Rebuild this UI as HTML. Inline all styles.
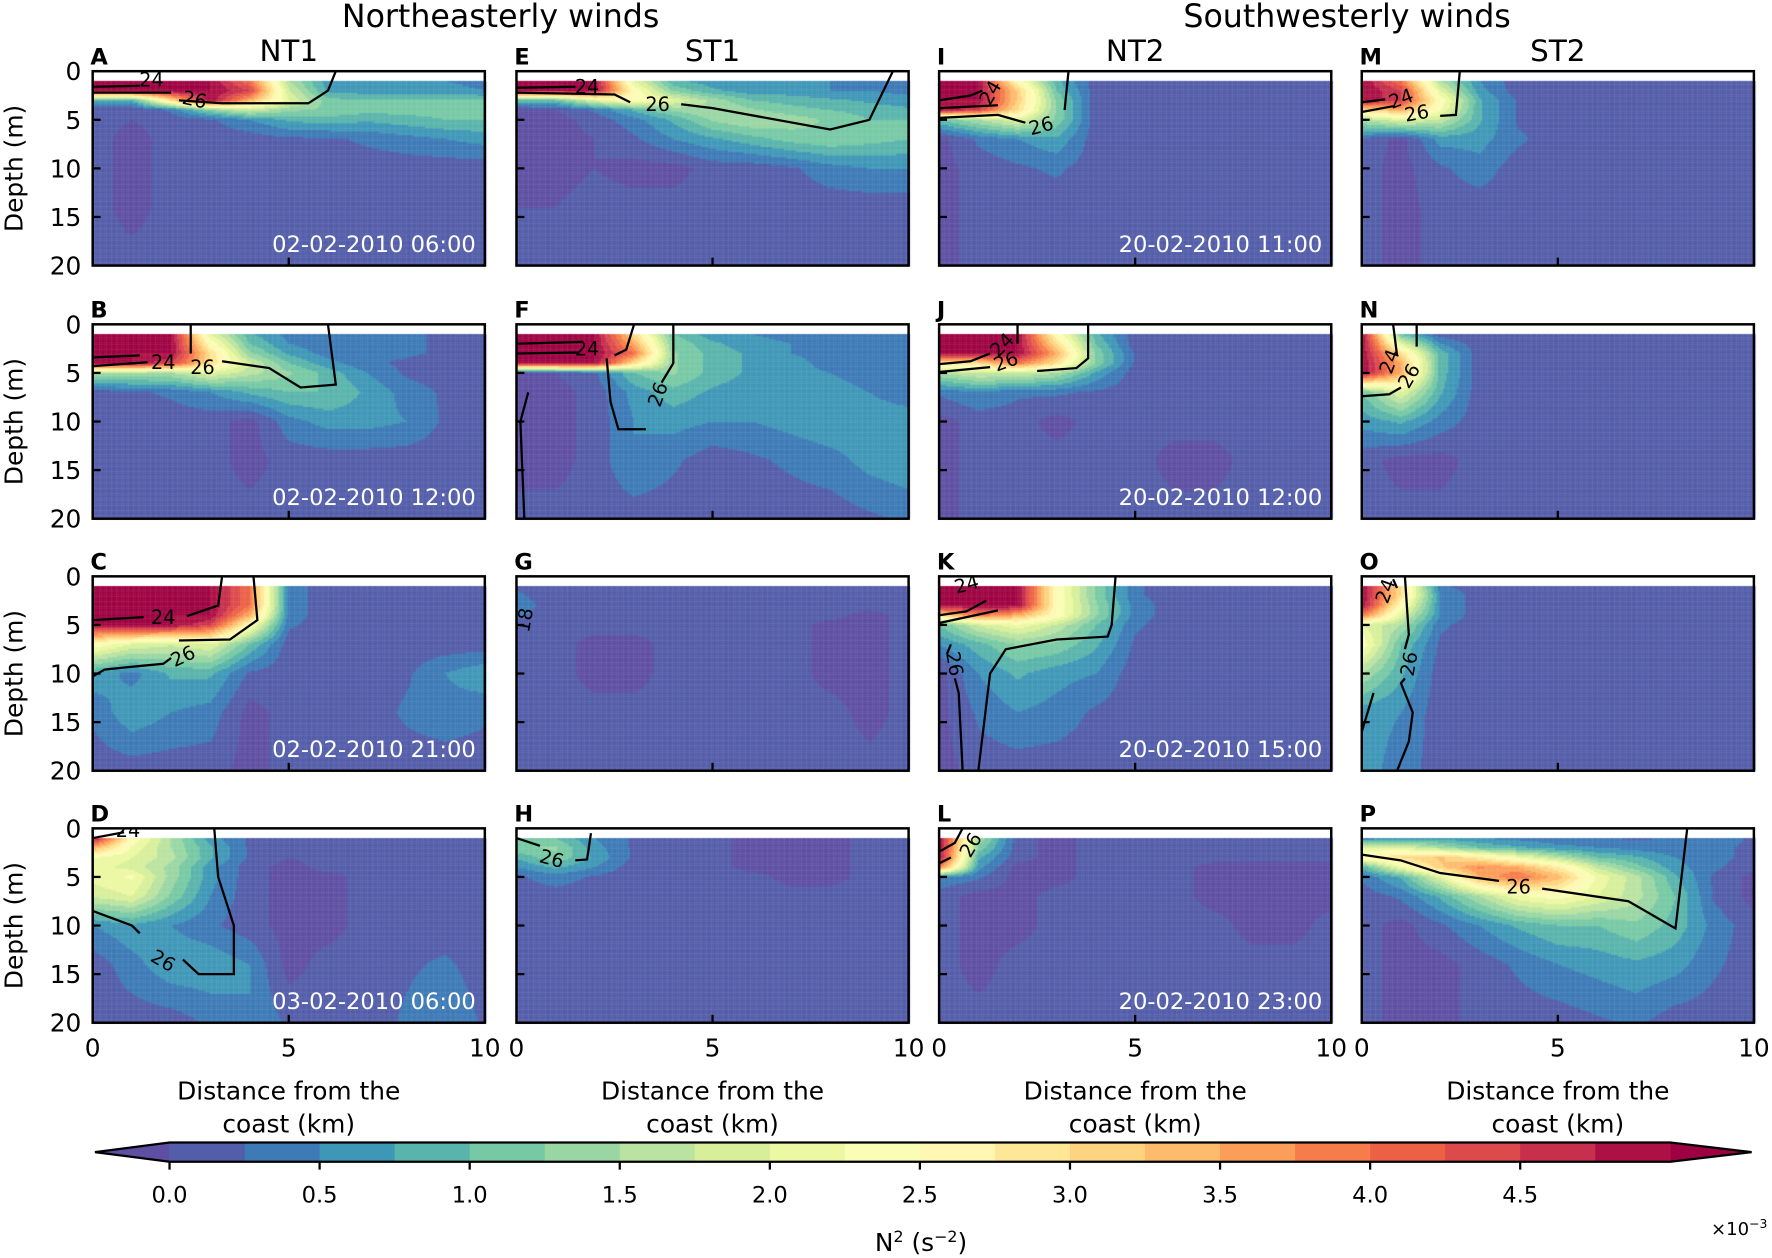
<!DOCTYPE html>
<html><head><meta charset="utf-8">
<style>
html,body{margin:0;padding:0;background:#fff;}
#wrap{position:relative;width:1772px;height:1258px;overflow:hidden;}
canvas,svg{position:absolute;left:0;top:0;}
text{font-family:"DejaVu Sans","Liberation Sans",sans-serif;}
</style></head>
<body>
<div id="wrap">
<canvas id="cv" width="1772" height="1258"></canvas>
<svg id="sv" width="1772" height="1258" viewBox="0 0 1568 1113.2"></svg>
</div>
<script>
// ---- data ----
const depths = [1,2,3,4,5,7,10,14,20];
const xKm = [0,1,2,3,4,5,6,7,8,9,10];
const panelLetters = ["A","B","C","D","E","F","G","H","I","J","K","L","M","N","O","P"];
const panelDates = ["02-02-2010 06:00","02-02-2010 12:00","02-02-2010 21:00","03-02-2010 06:00","","","","","20-02-2010 11:00","20-02-2010 12:00","20-02-2010 15:00","20-02-2010 23:00","","","",""];
const columnTitles = ["NT1","ST1","NT2","ST2"];
const groupTitles = ["Northeasterly winds","Southwesterly winds"];
const yTicks = [0,5,10,15,20];
const xTicks = [0,5,10];
const cbTicks = [0,0.5,1,1.5,2,2.5,3,3.5,4,4.5];
const cbLevels = [0,0.25,0.5,0.75,1,1.25,1.5,1.75,2,2.25,2.5,2.75,3,3.25,3.5,3.75,4,4.25,4.5,4.75,5];
// N2 fields (x1e-3), rows = depths, cols = xKm (missing cols = 0.1)
const fieldA = ["5 5 5 5 4 1.5 .6 .5 .5 .5 .4","5 5 5 5 4.5 1.8 .7 .6 .6 .6 .5",".8 .8 3 5 3.5 2 1.1 1 1 1 1","0 0 .3 1.2 1.8 1.3 1.2 1.1 1.1 1.1 1.1",".1 0 .1 .2 .5 .8 .9 .8 .9 1 1",".1 -.1 .1 .1 .1 .2 .2 .3 .4 .5 .6",".1 -.1 .1 .1 .1 .1 .1 .1 .1 .1 .1",".1 -.1",".1 .1 .1 .1 .1 .1 .1 .1 .1 .1 0"];
const fieldB = ["5 5 5 2 .8 .4 .3 .3 .3 .2 .2","5 5 5 2.5 1 .5 .3 .3 .3 .2 .2","5 5 5 3 1.3 .7 .4 .3 .3 .2 .2","5 5 4.5 3 1.8 1 .6 .3 .2 .1 .1","1.5 1.5 1.5 2 1.6 1.3 .9 .5 .2 .1 .1",".1 .2 .3 .5 .8 1 1 .7 .4 .2 .1",".1 .1 .1 .1 -.1 .4 .6 .6 .5 .2 .1",".1 .1 .1 .1 -.1 .1",".1"];
const fieldC = ["5 5 5 5 4 .4 .1","5 5 5 5 4 .4","5 5 5 5 4 .4","5 5 5 5 3.5 .4","5 5 5 4.5 2.5 .3","2.5 2 1.8 2 1 .1",".7 .4 .8 .8 .2 .1 .1 .1 .2 .5 .7",".3 .7 .5 .4 -.1 .1 .1 .1 .3 .4 .3",".1 .1 .1 .1 -.1"];
const fieldD = ["5 2.5 1.5 .6 .2 .1 .1","3.5 2.2 1.5 .8 .2 .1","2.3 2 1.6 .8 .2 0","2.1 1.9 1.4 .6 .1 -.1","2.1 2.3 1.4 .6 .1 -.1 -.1","1.8 2 1.2 .5 .1 -.1 -.1",".5 .7 .5 .3 .1 -.1 -.1",".1 .4 .7 .7 .5 -.1 .1 .1 .2 .3 .1",".1 .1 .1 .3 .5 .2 .1 .1 .3 .5 .2"];
const fieldE = ["5 5 5 2 .8 .6 .5 .5 .5 .4 .4","5 5 5 2.5 1.2 .8 .6 .6 .5 .5 .4","1 1 2 2.5 2 1.4 1 .9 .8 .7 .6","-.1 0 .3 .8 1.3 1.5 1.3 1.1 1 .9 .8","-.1 -.1 .1 .4 .8 1.3 1.5 1.4 1.2 1 1","-.1 -.1 0 .2 .5 .7 .9 1.1 1.2 1.1 1","-.1 -.1 0 -.1 -.1 .1 .1 .2 .4 .5 .5","0 0",".1"];
const fieldF = ["5 5 5 3 1 .6 .5 .4 .4 .3 .3","5 5 5 3.5 1.2 .8 .6 .5 .4 .3 .3","5 5 5 4 1.3 .9 .7 .5 .4 .3 .3","5 5 5 3 1.3 .9 .7 .6 .4 .3 .3","0 0 .2 1 1.3 .9 .7 .6 .5 .4 .3","-.1 -.1 .1 .6 .9 .7 .6 .6 .6 .5 .4","-.1 -.1 .1 .5 .6 .5 .5 .6 .7 .6 .6","-.1 -.1 .1 .5 .3 .1 .2 .3 .4 .6 .7",".1 .1 .1 .1 .1 .1 .1 .1 .1 .2 .3"];
const fieldG = [".2 .1 .1 .1 .1 .1 .1 .1 .1 .1 .1",".3 .1 .1 .1 .1 .1 .1 .1 .1 .1 .1",".4 .1 .1 .1 .1 .1 .1 .1 .1 .1 .1",".3 .1 .1 .1 .1 .1 .1 .1 .1 -.1 .1",".1 .1 .1 .1 .1 .1 .1 .1 -.1 -.1 .1",".1 .1 -.1 -.1 .1 .1 .1 .1 -.1 -.1 .1",".1 .1 -.1 -.1 .1 .1 .1 .1 -.1 -.1 .1",".1 .1 .1 .1 .1 .1 .1 .1 .1 -.1 .1",".1"];
const fieldH = ["1 1 .5 .2 .1 .1 -.1 -.1 -.1 .1 .1","1.2 1.3 .6 .2 .1 .1 -.1 -.1 -.1 .1 .1",".8 1.2 .7 .2 .1 .1 -.1 -.1 -.1 .1 .1",".5 .8 .5 .1 .1 .1 -.1 -.1 -.1 .1 .1",".2 .4 .2 .1 .1 .1 .1 -.1 -.1 .1 .1",".1",".1",".1",".1"];
const fieldI = ["5 5 2.5 .8 .1 .1","5 5 3.2 1 .1 .1","5 5 3.2 1.2 .1 .1","5 4.5 3 1.2 .1 .1","1 1.5 2 1.2 .1 .1","-.1 .3 .5 .7 .1 .1","-.1 .1 .2 .3 .1 .1","-.1 .1","-.1 .1"];
const fieldJ = ["5 5 5 2.5 .8 .1 .1","5 5 5 3 1 .1 .1","5 5 5 3.5 1.2 .2 .1","3 3 4 3 1.2 .2 .1","1.5 1.8 1.8 1.5 .7 .1 .1",".3 .5 .3 .3 .2 .1","-.1 .1 .1 -.1 .1","-.1 .1 .1 .1 .1 .1 -.1 -.1","-.1 .1"];
const fieldK = ["5 5 5 2.5 1.2 .3 .1","5 5 5 2.5 1.2 .3 .1","5 5 5 2.5 1.3 .4 .1","3 4 3.5 2.5 1.3 .4 .1","1 1.8 2.2 1.7 1 .3 .1",".5 .9 1.3 1.2 .8 .2 .1","-.1 .5 .8 .6 .5 .1 .1","-.1 .3 .5 .4 .2 .1 .1","-.1 .1"];
const fieldL = ["5 1.5 .1 -.1 .1 .1 .1 .1 .1 .1 .1","5 1.2 .1 -.1 .1 .1 .1 .1 .1 .1 .1","5 .8 .1 -.1 .1 .1 .1 .1 .1 .1 .1","4 .6 -.1 -.1 .1 .1 .1 -.1 -.1 -.1 -.1",".5 .3 -.1 -.1 .1 .1 .1 -.1 -.1 -.1 -.1",".1 -.1 -.1 .1 .1 .1 .1 -.1 -.1 -.1 -.1",".1 -.1 -.1 .1 .1 .1 .1 .1 -.1 -.1 .1",".1 -.1 .1 .1 .1 .1 .1 .1 .1 .1 .1",".1"];
const fieldM = ["5 4 1.5 .5 .1 .1","5 4.5 2 .6 .1","5 4.5 2.5 .8 .2","3 3.5 2.3 .8 .2","1.5 2 1.7 .8 .2",".2 -.1 .6 .6 .3",".1 -.1 .2 .4 .1",".1 -.1 .1 .1 .1",".1 -.1"];
const fieldN = ["5 1 .1","5 2 .5","5 3 .9","5 3.5 .9","5 3.5 .9","1 2 .8",".6 .8 .4",".1 -.1 -.1 .1",".1"];
const fieldO = ["5 3 .3 .1","5 3 .5","5 2.5 .5","4 2 .5","2 1.5 .3","2.5 1 .2","1.5 .8 .1",".6 .5 .1",".6 .4 .1"];
const fieldP = [".3 .5 .6 .5 .4 .3 .3 .2 .3 .4 .2","2 2 1.5 1 .8 .6 .5 .4 .3 .3 .2","2.6 3 3.3 2.8 2.2 1.6 1 .8 .5 .3 .2",".8 2.2 3.2 3.8 3.5 2.8 1.7 1.1 .6 .3 .1",".3 .8 2 3.5 4 3.4 2.2 1.6 .8 .2 -.1",".1 .3 .8 1.5 2.2 2.4 2 1.6 1 .2 -.1",".1 -.1 .2 .5 .8 1 1 1.2 .9 .4 .1",".1 -.1 -.1 .1 .3 .5 .6 .7 .6 .3 .1",".1 -.1 -.1 .1 .1 .1 .2 .3 .1 .1 .1"];
const fields = [fieldA,fieldB,fieldC,fieldD,fieldE,fieldF,fieldG,fieldH,fieldI,fieldJ,fieldK,fieldL,fieldM,fieldN,fieldO,fieldP];
// isopycnal contour lines [km, depth]
const contours = [
 [[[0,1.6],[1.2,1.5]],[[0,2.2],[2,2.2]],[[2.2,3.0],[3.3,3.3],[5.5,3.3],[6,2],[6.2,0]]],
 [[[0,3.4],[1.2,3.2]],[[0,4.3],[1.4,3.9]],[[2.5,0],[2.5,3]],[[3.3,3.8],[4.5,4.5],[5.3,6.5],[6.2,6.2],[6,0]]],
 [[[0,4.5],[1.3,4.2]],[[2.4,4.1],[3.2,3],[3.3,0]],[[4.1,0],[4.2,4.5],[3.5,6.5],[2.2,6.6]],[[2,8.4],[1.8,9],[1,9.3],[0.3,9.6],[0,10.3]]],
 [[[0,1],[0.8,0.4]],[[3.1,0],[3.2,5],[3.6,10],[3.6,15],[2.7,15],[2.3,13.5]],[[0,8.5],[1,10],[1.2,10.8]]],
 [[[0,1.7],[1.5,1.6]],[[0,2.2],[2.5,2.4],[2.9,3.2]],[[4.2,3.4],[5,3.8],[8,6],[9,5],[9.6,0]]],
 [[[0,2],[1.7,1.8]],[[0,3],[1.6,2.9]],[[3,0],[2.8,2.6],[2.5,3.2]],[[2.3,3.5],[2.4,8],[2.6,10.8],[3.3,10.8]],[[4,0],[4,4],[3.7,6]],[[0.2,20],[0.1,10],[0.3,7]]],
 [],
 [[[0,1],[0.6,1.8]],[[1.5,3.3],[1.8,3.2],[1.9,0.5]]],
 [[[0,3],[0.8,2.5],[1.1,2]],[[0,3.8],[1.5,3.5]],[[0,4.8],[1.5,4.5],[2.2,5.3]],[[3.2,4],[3.3,0]]],
 [[[0,4.1],[0.8,3.8],[1.3,3]],[[0,4.9],[1.3,4.4]],[[2.5,4.8],[3.5,4.5],[3.8,3.5],[3.8,0]],[[2,0],[2,2]]],
 [[[0,4],[0.7,3.6],[1.2,2.5]],[[0,4.8],[1.5,3.5]],[[4.5,0],[4.4,5],[4.3,6.2],[3,6.5],[1.7,7.5],[1.3,10],[1,20]],[[0.3,7],[0.2,8]],[[0.4,10.5],[0.5,12],[0.6,20]]],
 [[[0,2.4],[0.4,1.5],[0.6,0]],[[0,3.6],[0.3,3]]],
 [[[0,3.2],[0.6,2.9]],[[0,4.2],[0.8,3.6]],[[2.5,0],[2.4,4.5],[2,4.6]]],
 [[[0.8,0],[0.9,3.2]],[[1.4,0],[1.4,2.3]],[[0,7.4],[0.7,7.2],[1,6.5]]],
 [[[0.8,0.3],[0.9,1.2]],[[1.1,0],[1.2,6],[1.1,7.5]],[[1.1,10.5],[1,11],[1.3,14],[1.2,17],[0.9,20]],[[0.3,12],[0,16]]],
 [[[0,2.7],[1,3.3],[2,4.6],[3.5,5.4]],[[4.6,6.2],[6.8,7.5],[8,10.3],[8.3,0]]]
];
const contourLabels = [
 [["24",1.5,0.9,0],["26",2.6,2.9,12]],
 [["24",1.8,3.9,0],["26",2.8,4.4,0]],
 [["24",1.8,4.2,0],["26",2.3,8.2,-25]],
 [["24",0.9,0.2,0],["26",1.8,13.6,30]],
 [["24",1.8,1.6,0],["26",3.6,3.4,0]],
 [["24",1.8,2.5,0],["26",3.6,7.2,-70]],
 [["18",0.2,4.5,-80]],
 [["26",0.9,3.1,15]],
 [["24",1.3,2.2,-60],["26",2.6,5.6,-15]],
 [["24",1.6,2.1,-45],["26",1.7,3.8,-20]],
 [["24",0.7,0.8,-15],["26",0.4,9,80]],
 [["26",0.8,1.7,-60]],
 [["24",1,2.8,-20],["26",1.4,4.3,-10]],
 [["24",0.7,3.8,-70],["26",1.2,5.3,-60]],
 [["24",0.6,1.5,-70],["26",1.2,9,-80]],
 [["26",4,6,0]]
];
// ---- layout ----
const colX = [82,457,831,1205], rowY = [63,287,510,733], PW = 347, PH = 172;
const S = 1772/1568;
const cv = document.getElementById('cv'), ctx = cv.getContext('2d');
ctx.scale(S,S);
const svg = document.getElementById('sv'), NS = 'http://www.w3.org/2000/svg';
function mk(tag, attrs, parent, txt){const e=document.createElementNS(NS,tag);for(const k in attrs)e.setAttribute(k,attrs[k]);if(txt!==undefined)e.textContent=txt;(parent||svg).appendChild(e);return e;}
const spectral = ["#5e4fa2","#3288bd","#66c2a5","#abdda4","#e6f598","#ffffbf","#fee08b","#fdae61","#f46d43","#d53e4f","#9e0142"];
function hex(h){return [parseInt(h.substr(1,2),16),parseInt(h.substr(3,2),16),parseInt(h.substr(5,2),16)];}
function cmap(t){t=Math.max(0,Math.min(1,t));const f=t*10,i=Math.min(9,Math.floor(f)),r=f-i;const a=hex(spectral[i]),b=hex(spectral[i+1]);return 'rgb('+a.map((v,k)=>Math.round(v+(b[k]-v)*r)).join(',')+')';}
const nBins = cbLevels.length-1, vmax = cbLevels[nBins];
const binColors = []; for(let i=0;i<nBins;i++) binColors.push(cmap((i+0.5)/nBins));
const underC = '#5e4fa2', overC = '#9e0142';
function colorFor(v){ if(v<0) return underC; if(v>=vmax) return overC; return binColors[Math.floor(v/(vmax/nBins))]; }
function parseField(rows){return rows.map(r=>{const a=r.trim().split(/\s+/).map(Number);while(a.length<xKm.length)a.push(0.1);return a;});}
function sample(g,km,d){
  let j=0; while(j<depths.length-2 && d>depths[j+1]) j++;
  let ty=(d-depths[j])/(depths[j+1]-depths[j]); ty=Math.max(0,Math.min(1,ty));
  let i=Math.min(xKm.length-2,Math.floor(km)); const tx=km-i;
  const a=g[j][i]*(1-tx)+g[j][i+1]*tx, b=g[j+1][i]*(1-tx)+g[j+1][i+1]*tx;
  return a*(1-ty)+b*ty;
}
// ---- panels ----
for(let p=0;p<16;p++){
  const c=Math.floor(p/4), r=p%4, x0=colX[c], y0=rowY[r];
  const kx=km=>x0+km/10*PW, dy=d=>y0+d/20*PH;
  const g=parseField(fields[p]);
  const cs=1.5;
  for(let py=dy(1);py<y0+PH;py+=cs){
    for(let px=x0;px<x0+PW;px+=cs){
      const km=(px+cs/2-x0)/PW*10, d=(py+cs/2-y0)/PH*20;
      ctx.fillStyle=colorFor(sample(g,km,Math.max(1,d)));
      ctx.fillRect(px,py,cs+0.3,cs+0.3);
    }
  }
  const grp=mk('g',{});
  
  
  const clipId='cl'+p;
  const cp=mk('clipPath',{id:clipId},grp); mk('rect',{x:x0,y:y0,width:PW,height:PH},cp);
  const cg=mk('g',{'clip-path':'url(#'+clipId+')'},grp);
  contours[p].forEach(line=>{
    const pl=mk('polyline',{points:line.map(q=>kx(q[0])+','+dy(q[1])).join(' '),fill:'none',stroke:'#000','stroke-width':2},cg);
    
    
  });
  contourLabels[p].forEach(l=>{
    const t=mk('text',{x:kx(l[1]),y:dy(l[2])+6,'font-size':17,'text-anchor':'middle',fill:'#000',transform:'rotate('+l[3]+' '+kx(l[1])+' '+(dy(l[2]))+')'},cg,l[0]);
    
    
  });
  if(panelDates[p]){
    const t=mk('text',{x:x0+PW-8,y:y0+PH-12,'font-size':20,'text-anchor':'end',fill:'#fff'},grp,panelDates[p]);
    
    
  }
  [5,10,15].forEach(v=>mk('line',{x1:x0,x2:x0+7,y1:dy(v),y2:dy(v),stroke:'#000','stroke-width':2},grp));
  mk('line',{x1:kx(5),x2:kx(5),y1:y0+PH,y2:y0+PH-7,stroke:'#000','stroke-width':2},grp);
  const fr=mk('rect',{x:x0,y:y0,width:PW,height:PH,fill:'none',stroke:'#000','stroke-width':2.2},grp);
  
  
  const lt=mk('text',{x:x0-2,y:y0-6,'font-size':20,'font-weight':'bold',fill:'#000'},grp,panelLetters[p]);
  
  
  if(c===0){
    yTicks.forEach(v=>{const t=mk('text',{x:x0-10,y:dy(v)+8,'font-size':22,'text-anchor':'end',fill:'#000'},grp,String(v));
      
      });
    const yt=mk('text',{x:0,y:0,'font-size':22,'text-anchor':'middle',fill:'#000',transform:'translate(20,'+(y0+PH/2)+') rotate(-90)'},grp,'Depth (m)');
    
    
  }
  if(r===3){
    xTicks.forEach(v=>{const t=mk('text',{x:kx(v),y:y0+PH+30,'font-size':22,'text-anchor':'middle',fill:'#000'},grp,String(v));
      
      });
    const xt=mk('text',{x:x0+PW/2,y:973,'font-size':22,'text-anchor':'middle',fill:'#000'},grp);
    
    
    mk('tspan',{x:x0+PW/2,dy:0},xt,'Distance from the');
    mk('tspan',{x:x0+PW/2,dy:29},xt,'coast (km)');
  }
  if(r===0){
    const ct=mk('text',{x:x0+PW/2,y:54,'font-size':26,'text-anchor':'middle',fill:'#000'},grp,columnTitles[c]);
    
    
  }
}
groupTitles.forEach((t,i)=>{const e=mk('text',{x:[443,1192][i],y:24,'font-size':28,'text-anchor':'middle',fill:'#000'},svg,t);
  
  });
// ---- colorbar ----
const cbX0=150, cbX1=1478, cbY=1011, cbH=17, cbL=84, cbR=1550;
const cbx=v=>cbX0+v/vmax*(cbX1-cbX0);
const cb=mk('g',{});  
mk('polygon',{points:cbX0+','+cbY+' '+cbL+','+(cbY+cbH/2)+' '+cbX0+','+(cbY+cbH),fill:underC},cb);
mk('polygon',{points:cbX1+','+cbY+' '+cbR+','+(cbY+cbH/2)+' '+cbX1+','+(cbY+cbH),fill:overC},cb);
for(let i=0;i<nBins;i++){const b=mk('rect',{x:cbx(cbLevels[i]),y:cbY,width:cbx(cbLevels[i+1])-cbx(cbLevels[i])+0.5,height:cbH,fill:binColors[i]},cb);
  
  }
mk('polygon',{points:cbL+','+(cbY+cbH/2)+' '+cbX0+','+cbY+' '+cbX1+','+cbY+' '+cbR+','+(cbY+cbH/2)+' '+cbX1+','+(cbY+cbH)+' '+cbX0+','+(cbY+cbH),fill:'none',stroke:'#000','stroke-width':2},cb);
cbTicks.forEach(v=>{mk('line',{x1:cbx(v),x2:cbx(v),y1:cbY+cbH,y2:cbY+cbH+7,stroke:'#000','stroke-width':2},cb);
  const t=mk('text',{x:cbx(v),y:1064,'font-size':20,'text-anchor':'middle',fill:'#000'},cb,v.toFixed(1));
  
  });
const cl=mk('text',{x:815,y:1107,'font-size':22,'text-anchor':'middle',fill:'#000'},svg);


mk('tspan',{},cl,'N'); mk('tspan',{'baseline-shift':'super','font-size':14},cl,'2'); mk('tspan',{},cl,' (s'); mk('tspan',{'baseline-shift':'super','font-size':14},cl,'−2'); mk('tspan',{},cl,')');
const sc=mk('text',{x:1564,y:1093,'font-size':16,'text-anchor':'end',fill:'#000'},svg);


mk('tspan',{},sc,'×10'); mk('tspan',{'baseline-shift':'super','font-size':11},sc,'−3');
</script>
</body></html>
